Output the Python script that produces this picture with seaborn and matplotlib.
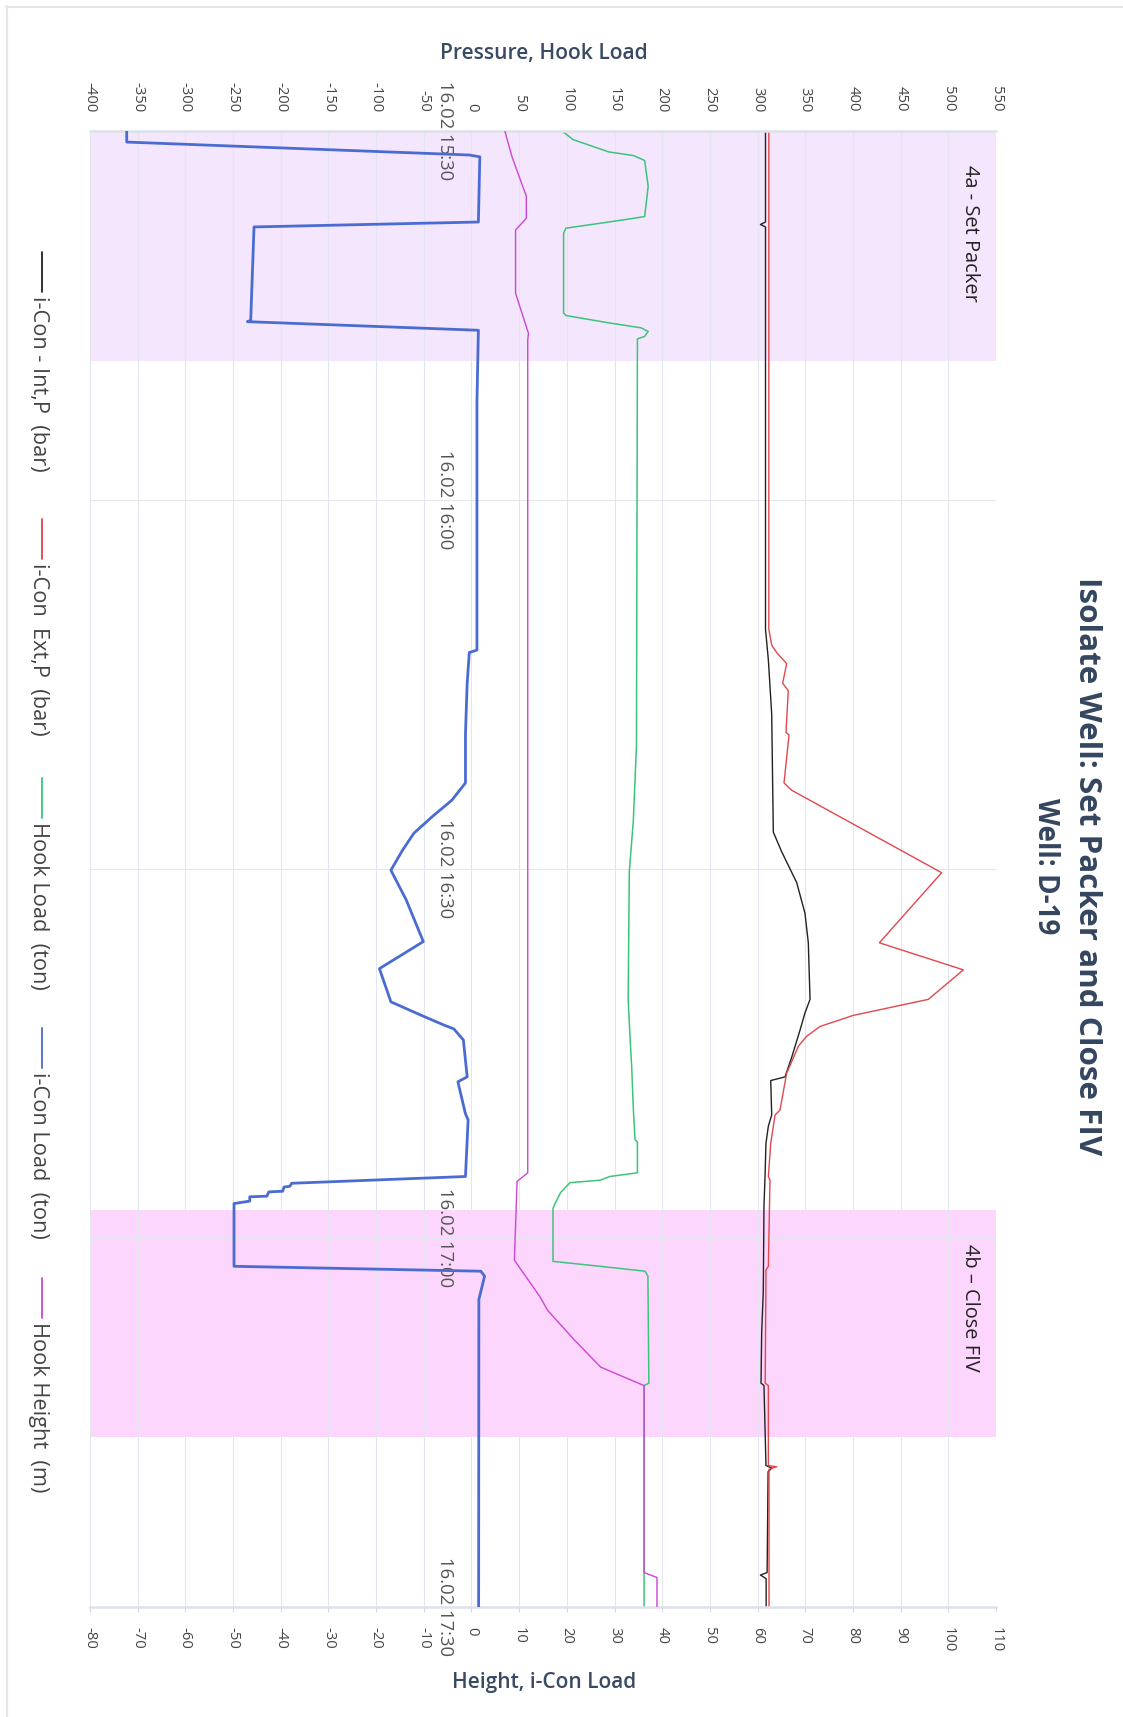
import matplotlib
matplotlib.use("Agg")
import matplotlib.pyplot as plt
import matplotlib.transforms as mtransforms
from matplotlib.lines import Line2D
import pandas as pd
import seaborn as sns

# ---------------------------------------------------------------------------
# Well D-19, 16.02: minutes after 15:30 and the logged channels
# ---------------------------------------------------------------------------
int_p_min = [0, 7.4, 7.6, 7.8, 40.5, 43.0, 47.4, 57.0, 58.6, 61.1, 63.6, 66.0,
             70.6, 71.7, 73.1, 75.3, 76.9, 77.2, 80.0, 80.9, 82.3, 85.0, 87.4,
             94.3, 97.7, 101.8, 102.0, 108.5, 108.7, 109.0, 117.2, 117.4, 117.7, 120]
int_p_bar = [308.3, 308.3, 303, 308.3, 308.3, 311.3, 314.8, 316.5, 325.3, 341,
             349.7, 353.2, 355, 349.7, 344.5, 335.8, 328.8, 313.8, 314.8, 311.3,
             308.8, 307.8, 306.7, 306, 304.3, 303.6, 306.7, 308.8, 315, 311, 310,
             303, 309, 309]

ext_p_min = [0, 40.5, 41.8, 42.4, 43.3, 44.9, 45.5, 48.9, 49.1, 53.0, 53.6, 60.3,
             66.0, 68.2, 70.6, 71.9, 72.8, 73.6, 74.4, 76.6, 79.6, 80.0, 82.3,
             85.0, 85.3, 92.3, 92.6, 101.8, 102.0, 108.5, 108.6, 108.8, 120]
ext_p_bar = [311.8, 311.8, 314.8, 320, 330.5, 326.3, 332.2, 329.8, 333, 327.7,
             335.8, 493, 427.7, 515.8, 479, 400.4, 365.5, 351.5, 342.8, 330.5,
             323.5, 318.3, 313.8, 311.3, 313, 311.3, 308.8, 308, 311.3, 311.3,
             320, 312, 312]

hook_load_min = [0, 0.7, 1.7, 2.0, 2.4, 4.5, 6.95, 7.1, 7.4, 7.9, 8.3, 14.8, 15.0,
                 15.6, 16.0, 16.3, 16.7, 16.9, 50.0, 56.1, 60.2, 70.6, 73.3, 76.1,
                 79.6, 82.0, 82.2, 84.7, 85.0, 85.3, 85.5, 86.3, 87.2, 87.6, 91.9,
                 92.3, 92.7, 93.1, 101.8, 102.0, 120]
hook_load_ton = [95, 106.5, 144, 170, 181.6, 185.3, 181.6, 170, 144, 99, 96.6,
                 96.6, 99, 144, 177.8, 185.3, 181.6, 174, 173, 169.7, 165.5, 164.3,
                 166, 168, 169.8, 171.5, 174, 174, 145, 135, 103.3, 93.5, 87.6,
                 85.5, 85.5, 134.8, 182, 185, 186, 181, 181]

icon_load_min = [0, 0.9, 1.95, 2.1, 7.4, 7.8, 15.4, 15.5, 16.2, 22.0, 42.2, 42.4,
                 44.9, 49.0, 53.0, 54.4, 55.7, 57.1, 58.5, 60.1, 62.5, 65.9, 68.1,
                 69.0, 70.8, 71.9, 72.7, 73.0, 73.9, 76.9, 77.3, 79.9, 80.4, 85.0,
                 85.55, 85.8, 85.85, 86.2, 86.25, 86.6, 86.65, 87.0, 87.2, 92.3,
                 92.7, 93.1, 95.0, 120]
icon_load_ton = [-72.3, -72.3, -0.5, 1.75, 1.45, -45.6, -46.3, -47.0, 1.45, 1.15,
                 1.15, -0.46, -0.9, -1.26, -1.26, -4.1, -8.1, -12.1, -14.5, -16.9,
                 -13.7, -10.1, -19.3, -18.5, -16.9, -10.5, -5.7, -3.7, -1.7, -0.9,
                 -2.85, -1.26, -0.7, -1.26, -37.7, -38.1, -39.3, -39.6, -42.5,
                 -42.9, -46.5, -46.5, -49.8, -49.8, 1.95, 2.75, 1.55, 1.5]

hook_height_min = [0, 2.1, 5.3, 7.1, 8.05, 13.2, 16.45, 17.0, 84.7, 85.4, 91.8,
                   94.8, 95.9, 98.3, 100.5, 102.0, 117.2, 117.6, 120]
hook_height_m = [7.0, 8.5, 11.5, 11.5, 9.25, 9.25, 11.95, 11.8, 11.8, 9.56, 9.0,
                 14.4, 16.0, 21.6, 27.1, 36.2, 36.2, 38.9, 38.9]

# operation phases (minutes after 15:30)
set_packer = (0.0, 18.7)
close_fiv = (87.7, 106.2)
phase_labels = ["4a - Set Packer", "4b \u2013 Close FIV"]

time_ticks = [0, 30, 60, 90, 120]
time_labels = ["16.02 15:30", "16.02 16:00", "16.02 16:30", "16.02 17:00", "16.02 17:30"]
pressure_ticks = list(range(-400, 551, 50))
height_ticks = list(range(-80, 111, 10))

series_names = ["i-Con - Int,P  (bar)", "i-Con  Ext,P  (bar)", "Hook Load  (ton)",
                "i-Con Load  (ton)", "Hook Height  (m)"]
series_colors = ["#222222", "#e2474c", "#3cc47a", "#4a6cd2", "#cc45d6"]

TITLE = "Isolate Well: Set Packer and Close FIV"
SUBTITLE = "Well: D-19"

# ---------------------------------------------------------------------------
sns.set_theme(style="white")
plt.rcParams["font.family"] = ["Open Sans", "DejaVu Sans"]
plt.rcParams["axes.unicode_minus"] = False

W, H = 1123, 1717
fig = plt.figure(figsize=(W / 100, H / 100), dpi=100)
fig.patch.set_facecolor("white")


def fx(px):
    return px / W


def fy(py):
    return 1 - py / H


L, R, T, B = 90, 996, 131, 1607
ax = fig.add_axes([fx(L), fy(B), (R - L) / W, (B - T) / H])
ax2 = ax.twiny()
ax.set_facecolor("white")

# phase bands behind the grid
ax.axhspan(*set_packer, color="#f4e6fc", lw=0, zorder=0.1)
ax.axhspan(*close_fiv, color="#fdd6fd", lw=0, zorder=0.1)


def draw(axis, minutes, values, color, lw):
    df = pd.DataFrame({"minutes": minutes, "value": values})
    sns.lineplot(data=df, x="value", y="minutes", orient="y", sort=False,
                 estimator=None, color=color, lw=lw, legend=False, ax=axis)


draw(ax, hook_load_min, hook_load_ton, series_colors[2], 1.1)
draw(ax, int_p_min, int_p_bar, series_colors[0], 1.0)
draw(ax, ext_p_min, ext_p_bar, series_colors[1], 1.0)
draw(ax2, icon_load_min, icon_load_ton, series_colors[3], 2.0)
draw(ax2, hook_height_min, hook_height_m, series_colors[4], 1.0)

for a in (ax, ax2):
    a.set_xlabel("")
    a.set_ylabel("")

ax.set_xlim(-400, 550)
ax2.set_xlim(-80, 110)
ax.set_ylim(120, 0)

# grid
ax.set_axisbelow(True)
ax.set_xticks(pressure_ticks)
ax.set_yticks(time_ticks)
ax.grid(True, color="#e3e6ee", lw=0.75)
ax2.grid(False)

tick_color = "#444444"
ax.xaxis.tick_top()
ax.tick_params(axis="x", top=True, bottom=False, labeltop=True, labelbottom=False,
               length=0, pad=13.7, labelrotation=270, labelsize=10,
               labelcolor=tick_color)
ax.tick_params(axis="y", left=False, right=False, labelleft=False, labelright=False)
ax2.set_xticks(height_ticks)
ax2.xaxis.set_ticks_position("bottom")
ax2.tick_params(axis="x", bottom=True, top=False, labelbottom=True, labeltop=False,
                length=3.6, width=0.8, color="#d6dae2", pad=10.5,
                labelrotation=270, labelsize=10, labelcolor=tick_color)

for a in (ax, ax2):
    for s in a.spines.values():
        s.set_visible(False)
for side in ("top", "bottom"):
    ax.spines[side].set_visible(True)
    ax.spines[side].set_color("#dde1e9")
    ax.spines[side].set_linewidth(1.8)

# time labels sit next to the zero line of the pressure scale
trans = mtransforms.blended_transform_factory(ax.transAxes, ax.transData)
time_texts = []
for m, lab in zip(time_ticks, time_labels):
    time_texts.append(ax.text(0.3913, m, lab, rotation=270, ha="center", va="center",
                              transform=trans, fontsize=13, color="#555555",
                              clip_on=False, zorder=5))

phase_texts = []
for start, lab in zip((set_packer[0], close_fiv[0]), phase_labels):
    phase_texts.append(ax.text(0.9713, start + 2.75, lab, rotation=270, ha="center",
                               va="top", transform=trans, fontsize=14,
                               color="#222222", zorder=5))

# titles
title_color = "#34465f"
t_main = fig.text(fx(1087), fy(866), TITLE, rotation=270, ha="center", va="center",
                  fontsize=22.8, fontweight="bold", color=title_color)
t_sub = fig.text(fx(1046), fy(866), SUBTITLE, rotation=270, ha="center", va="center",
                 fontsize=20, fontweight="bold", color=title_color)
t_top = fig.text(fx(544), fy(53), "Pressure, Hook Load", ha="center", va="center",
                 fontsize=15, fontweight="semibold", color="#3a4a63")
t_bot = fig.text(fx(544), fy(1682), "Height, i-Con Load", ha="center", va="center",
                 fontsize=15, fontweight="semibold", color="#3a4a63")

# legend, one entry after another down the left margin
legend_starts = [252, 519, 778, 1028, 1278]
legend_texts = []
for start, name, col in zip(legend_starts, series_names, series_colors):
    fig.add_artist(Line2D([fx(41.5), fx(41.5)], [fy(start), fy(start + 40)],
                          transform=fig.transFigure, color=col, lw=1.3))
    legend_texts.append(fig.text(fx(38), fy(start + 44), name, rotation=270,
                                 ha="center", va="top", fontsize=14.5,
                                 color="#444444"))

# light page frame
frame_col = "#e3e6ec"
fig.add_artist(Line2D([fx(6), fx(W)], [fy(7), fy(7)], transform=fig.transFigure,
                      color=frame_col, lw=1.5))
fig.add_artist(Line2D([fx(7), fx(7)], [fy(6), fy(H)], transform=fig.transFigure,
                      color=frame_col, lw=1.5))

# size the text blocks to their run lengths in pixels
fig.canvas.draw()
rend = fig.canvas.get_renderer()


def fit(texts, target, vertical=True):
    bb = texts[0].get_window_extent(rend)
    cur = bb.height if vertical else bb.width
    k = target / cur
    for t in texts:
        t.set_fontsize(t.get_fontsize() * k)


fit([t_main], 578)
fit([t_sub], 137)
fit([t_top], 208, vertical=False)
fit([t_bot], 185, vertical=False)
fit(time_texts, 99)
fit(legend_texts, 176)
fit(phase_texts, 137)

ref_tick = ax.get_xticklabels()[0]
k_tick = 30 / ref_tick.get_window_extent(rend).height
ax.tick_params(axis="x", labelsize=10 * k_tick)
ax2.tick_params(axis="x", labelsize=10 * k_tick)

fig.savefig("out.png", dpi=100, facecolor="white")
